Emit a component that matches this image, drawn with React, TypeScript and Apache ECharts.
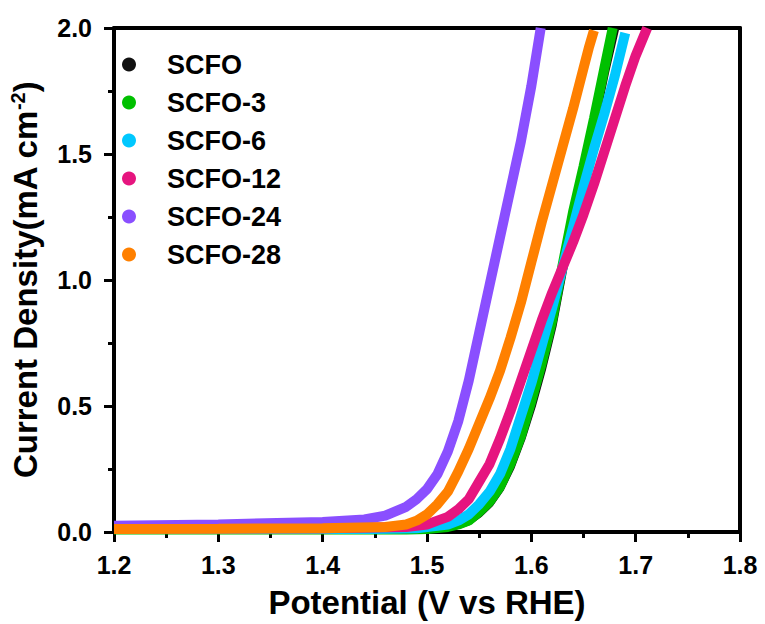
import React, { useEffect, useRef } from "react";
import * as echarts from "echarts";

const seriesNames = ["SCFO", "SCFO-3", "SCFO-6", "SCFO-12", "SCFO-24", "SCFO-28"];
const seriesColors = ["#111111", "#00c000", "#00c8ff", "#e6157f", "#8a4fff", "#ff8000"];

const scfo: [number, number][] = [
  [1.2, 0.01], [1.48, 0.01], [1.5, 0.012], [1.52, 0.02], [1.53, 0.03], [1.54, 0.045], [1.55, 0.075],
  [1.56, 0.115], [1.57, 0.175], [1.58, 0.26], [1.59, 0.37], [1.6, 0.5], [1.61, 0.65], [1.62, 0.82],
  [1.63, 1.04], [1.64, 1.25], [1.65, 1.43], [1.66, 1.62], [1.67, 1.82], [1.68, 2.0],
];
const scfo3: [number, number][] = [
  [1.2, 0.01], [1.48, 0.01], [1.5, 0.012], [1.52, 0.02], [1.53, 0.03], [1.54, 0.045], [1.55, 0.08],
  [1.56, 0.12], [1.57, 0.18], [1.58, 0.27], [1.59, 0.38], [1.6, 0.52], [1.61, 0.67], [1.62, 0.84],
  [1.63, 1.06], [1.64, 1.27], [1.65, 1.45], [1.66, 1.64], [1.67, 1.84], [1.678, 2.0],
];
const scfo6: [number, number][] = [
  [1.2, 0.012], [1.45, 0.012], [1.49, 0.015], [1.5, 0.02], [1.52, 0.03], [1.53, 0.045], [1.54, 0.07],
  [1.55, 0.11], [1.56, 0.16], [1.57, 0.23], [1.58, 0.33], [1.59, 0.46], [1.6, 0.59], [1.61, 0.74],
  [1.62, 0.89], [1.63, 1.05], [1.64, 1.21], [1.65, 1.37], [1.66, 1.52], [1.67, 1.66], [1.68, 1.81],
  [1.69, 1.98],
];
const scfo12: [number, number][] = [
  [1.2, 0.015], [1.4, 0.015], [1.48, 0.02], [1.5, 0.03], [1.51, 0.045], [1.52, 0.06], [1.53, 0.09],
  [1.54, 0.13], [1.55, 0.2], [1.56, 0.27], [1.57, 0.37], [1.58, 0.48], [1.59, 0.6], [1.6, 0.72],
  [1.61, 0.84], [1.62, 0.95], [1.63, 1.05], [1.64, 1.15], [1.65, 1.26], [1.66, 1.38], [1.67, 1.51],
  [1.68, 1.64], [1.69, 1.77], [1.7, 1.89], [1.711, 2.0],
];
const scfo24: [number, number][] = [
  [1.2, 0.025], [1.3, 0.03], [1.4, 0.04], [1.44, 0.05], [1.46, 0.065], [1.48, 0.1], [1.49, 0.13],
  [1.5, 0.17], [1.51, 0.23], [1.52, 0.32], [1.53, 0.44], [1.54, 0.6], [1.55, 0.79], [1.56, 0.98],
  [1.57, 1.17], [1.58, 1.36], [1.59, 1.55], [1.6, 1.77], [1.609, 2.0],
];
const scfo28: [number, number][] = [
  [1.2, 0.012], [1.3, 0.013], [1.4, 0.015], [1.46, 0.02], [1.48, 0.03], [1.49, 0.045], [1.5, 0.07],
  [1.51, 0.11], [1.52, 0.16], [1.53, 0.24], [1.54, 0.33], [1.55, 0.43], [1.56, 0.53], [1.57, 0.64],
  [1.58, 0.77], [1.59, 0.91], [1.6, 1.07], [1.61, 1.23], [1.62, 1.38], [1.63, 1.53], [1.64, 1.68],
  [1.65, 1.84], [1.655, 1.92], [1.66, 1.99],
];
const seriesData = [scfo, scfo3, scfo6, scfo12, scfo24, scfo28];

const xTitle = "Potential (V vs RHE)";
const yTitle = "Current Density(mA cm{sup|-2})";

const FONT = "'Liberation Sans', Arial, sans-serif";
const AXIS_W = 4;

function mainAxis() {
  return {
    axisLine: { show: true, onZero: false, lineStyle: { color: "#000", width: AXIS_W } },
    axisTick: { show: true, inside: false, length: 10, lineStyle: { color: "#000", width: 3 } },
    minorTick: { show: true, splitNumber: 2, length: 6, lineStyle: { color: "#000", width: 3 } },
    splitLine: { show: false },
    minorSplitLine: { show: false },
  };
}

function bareAxis(lineShow: boolean) {
  return {
    axisLine: { show: lineShow, onZero: false, lineStyle: { color: "#000", width: AXIS_W } },
    axisTick: { show: false },
    axisLabel: { show: false },
    splitLine: { show: false },
  };
}

export default function App() {
  const ref = useRef<HTMLDivElement>(null);
  useEffect(() => {
    if (!ref.current) return;
    const chart = echarts.init(ref.current, undefined, { renderer: "svg" });
    const option: any = {
      animation: false,
      grid: { left: 112, right: 25, top: 28, bottom: 91, show: false },
      legend: {
        orient: "vertical",
        left: 117,
        top: 46,
        itemWidth: 66,
        itemHeight: 14,
        itemGap: 11,
        icon: "circle",
        textStyle: { fontFamily: FONT, fontSize: 27, fontWeight: "bold", color: "#000" },
      },
      xAxis: [
        {
          type: "value",
          min: 1.2,
          max: 1.8,
          interval: 0.1,
          ...mainAxis(),
          axisLabel: {
            fontFamily: FONT, fontWeight: "bold", fontSize: 25, color: "#000", margin: 20,
            formatter: (v: number) => v.toFixed(1),
          },
        },
        { type: "value", position: "top", min: 1.2, max: 1.8, interval: 0.1, ...bareAxis(true) },
        {
          type: "value", position: "bottom", min: 1.2, max: 1.8, interval: 0.1, ...bareAxis(false),
          name: xTitle,
          nameLocation: "middle",
          nameGap: 54,
          nameTextStyle: { fontFamily: FONT, fontWeight: "bold", fontSize: 33, color: "#000" },
        },
      ],
      yAxis: [
        {
          type: "value",
          min: 0,
          max: 2.0,
          interval: 0.5,
          ...mainAxis(),
          axisLabel: {
            fontFamily: FONT, fontWeight: "bold", fontSize: 25, color: "#000", margin: 22,
            formatter: (v: number) => v.toFixed(1),
          },
        },
        { type: "value", position: "right", min: 0, max: 2.0, interval: 0.5, ...bareAxis(true) },
        {
          type: "value", position: "left", min: 0, max: 2.0, interval: 0.5, ...bareAxis(false),
          name: yTitle,
          nameLocation: "middle",
          nameGap: 72,
          nameTextStyle: {
            fontFamily: FONT, fontWeight: "bold", fontSize: 33, color: "#000",
            rich: { sup: { fontFamily: FONT, fontWeight: "bold", fontSize: 20, color: "#000", verticalAlign: "top", padding: [0, 0, 14, 0] } },
          },
        },
      ],
      series: seriesNames.map((n, i) => ({
        name: n,
        type: "line",
        data: seriesData[i],
        showSymbol: false,
        color: seriesColors[i],
        lineStyle: { width: i === 0 ? 9 : 10 },
      })),
    };
    chart.setOption(option);
    return () => chart.dispose();
  }, []);
  return <div ref={ref} style={{ position: "fixed", left: 0, top: 0, width: 765, height: 624, background: "#fff" }} />;
}
